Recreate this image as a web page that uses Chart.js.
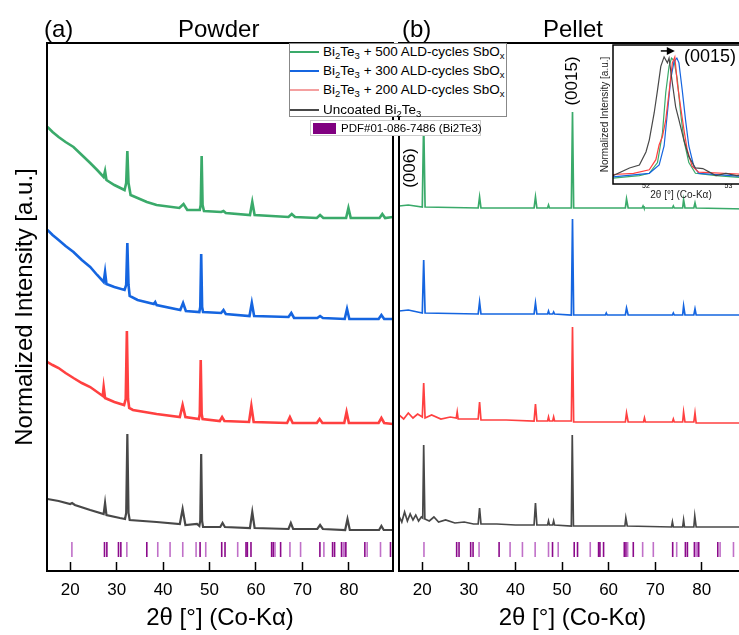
<!DOCTYPE html>
<html lang="en">
<head>
<meta charset="UTF-8" />
<title>XRD – Bi2Te3 powder and pellet with SbOx coatings</title>
<script src="https://cdn.jsdelivr.net/npm/chart.js"></script>
<style>
  body { margin: 0; background: #fff; font-family: 'Liberation Sans', Arial, sans-serif; }
  #fig { position: relative; width: 739px; height: 635px; overflow: hidden; }
  #fig canvas { position: absolute; }
  .head { position: absolute; font-size: 24px; line-height: 24px; color: #000; white-space: nowrap; }
  .legend { position: absolute; left: 289px; top: 43px; width: 218px; height: 74px; box-sizing: border-box;
            border: 1px solid #888; background: #fff; }
  .row { position: absolute; left: 0; height: 18px; width: 216px; }
  .row .swatch { position: absolute; left: 0; top: 8px; width: 29px; height: 2px; }
  .row .txt { position: absolute; left: 33px; top: 0; font-size: 13.5px; line-height: 18px; white-space: nowrap; color: #000; }
  sub { font-size: 9.5px; line-height: 0; vertical-align: baseline; position: relative; top: 3px; }
  .pdf { position: absolute; left: 310px; top: 120px; width: 171px; height: 16px; box-sizing: border-box;
         border: 1px solid #ccc; background: #fff; }
  .pdf .swatch { position: absolute; left: 2px; top: 2px; width: 23px; height: 11px; background: #800080; }
  .pdf .txt { position: absolute; left: 30px; top: 0; font-size: 11.5px; line-height: 14px; white-space: nowrap; }
</style>
</head>
<body>
<div id="fig">
  <canvas id="powder" width="396" height="635" style="left:0;top:0"></canvas>
  <canvas id="pellet" width="355" height="635" style="left:395px;top:0"></canvas>
  <canvas id="inset" width="160" height="162" style="left:598px;top:40px"></canvas>

  <div class="head" style="left:44px;top:17px">(a)</div>
  <div class="head" style="left:178px;top:17px">Powder</div>
  <div class="head" style="left:402px;top:17px">(b)</div>
  <div class="head" style="left:543px;top:17px">Pellet</div>

  <div class="legend">
    <div class="row" style="top:-1px"><div class="swatch" style="background:#3aaa6a"></div>
      <div class="txt">Bi<sub>2</sub>Te<sub>3</sub> + 500 ALD-cycles SbO<sub>x</sub></div></div>
    <div class="row" style="top:18px"><div class="swatch" style="background:#1565e0"></div>
      <div class="txt">Bi<sub>2</sub>Te<sub>3</sub> + 300 ALD-cycles SbO<sub>x</sub></div></div>
    <div class="row" style="top:37px"><div class="swatch" style="background:#f4a0a0"></div>
      <div class="txt">Bi<sub>2</sub>Te<sub>3</sub> + 200 ALD-cycles SbO<sub>x</sub></div></div>
    <div class="row" style="top:57px"><div class="swatch" style="background:#484848"></div>
      <div class="txt">Uncoated Bi<sub>2</sub>Te<sub>3</sub></div></div>
  </div>
  <div class="pdf"><div class="swatch"></div><div class="txt">PDF#01-086-7486 (Bi2Te3)</div></div>
</div>

<script>
  // 2θ axis ticks
  const xTicks = [20, 30, 40, 50, 60, 70, 80];
  const insetTicks = [52, 53];

  // Powder patterns, [2θ, intensity (offset, a.u.)]
  const powder500 = [[15.1,44.4],[16.2,43.9],[17.5,43.4],[19.0,42.9],[20.7,42.4],[22.5,41.6],[24.3,40.8],[25.8,40.1],[27.2,39.4],[27.5,40.0],[27.8,39.1],[29.5,38.6],[31.7,38.1],[32.05,38.8],[32.3,42.0],[32.55,38.8],[33.0,37.6],[34.5,37.3],[36.5,36.9],[38.6,36.6],[43.5,36.3],[44.4,36.7],[45.2,36.1],[47.9,36.1],[48.1,36.6],[48.3,41.5],[48.5,36.6],[48.8,36.0],[52.5,35.9],[53.0,36.0],[53.5,35.8],[58.7,35.6],[59.2,36.9],[59.7,35.6],[67.0,35.4],[67.7,35.7],[68.4,35.4],[73.1,35.3],[73.8,35.6],[74.5,35.3],[79.4,35.3],[79.9,36.3],[80.4,35.3],[86.6,35.3],[87.2,35.7],[87.8,35.3],[89.5,35.4]];
  const powder300 = [[15.1,34.1],[16.2,33.6],[17.5,33.1],[19.0,32.5],[20.7,31.9],[22.5,31.1],[24.3,30.4],[25.8,29.6],[27.2,28.9],[27.5,29.9],[27.8,28.7],[29.5,28.4],[31.7,28.1],[32.05,28.6],[32.3,32.8],[32.55,28.6],[32.8,27.5],[34.5,27.1],[38.0,26.7],[38.3,26.9],[38.6,26.6],[43.7,26.1],[44.3,26.8],[44.9,26.0],[47.8,25.9],[48.0,26.4],[48.2,31.7],[48.4,26.4],[48.6,25.9],[52.5,25.8],[53.0,26.1],[53.5,25.7],[58.6,25.5],[59.1,26.8],[59.6,25.5],[67.0,25.4],[67.6,25.8],[68.2,25.3],[73.2,25.3],[73.8,25.5],[74.4,25.3],[79.1,25.2],[79.6,26.2],[80.1,25.2],[86.4,25.2],[87.0,25.6],[87.6,25.2],[89.5,25.2]];
  const powder200 = [[15.1,20.9],[16.2,20.6],[17.5,20.3],[19.0,19.8],[20.7,19.3],[22.5,18.8],[24.3,18.4],[27.0,17.5],[27.2,18.4],[27.5,17.3],[29.5,16.9],[31.6,16.6],[31.95,17.2],[32.2,24.0],[32.45,17.2],[32.7,16.3],[33.5,16.1],[38.6,15.7],[43.6,15.4],[44.2,16.6],[44.8,15.4],[47.7,15.2],[47.9,15.7],[48.1,21.1],[48.3,15.7],[48.5,15.2],[52.2,15.0],[52.7,15.4],[53.2,15.0],[58.5,14.9],[59.0,16.5],[59.5,14.9],[66.7,14.8],[67.3,15.4],[67.9,14.8],[73.1,14.8],[73.7,15.2],[74.3,14.8],[79.0,14.8],[79.5,15.9],[80.0,14.8],[86.4,14.8],[87.0,15.3],[87.6,14.8],[89.5,14.7]];
  const powderBare = [[15.1,7.2],[17.5,7.0],[20.0,6.7],[20.4,6.8],[21.0,6.6],[24.3,6.1],[27.2,5.7],[27.5,6.8],[27.8,5.6],[30.7,5.3],[31.8,5.2],[32.05,5.8],[32.3,13.7],[32.55,5.8],[32.8,5.1],[38.6,4.9],[43.6,4.7],[44.2,6.2],[44.8,4.6],[47.3,4.7],[47.8,4.5],[48.0,5.0],[48.2,11.7],[48.4,5.0],[48.6,4.4],[52.3,4.4],[52.8,4.8],[53.3,4.4],[58.7,4.3],[59.2,5.9],[59.7,4.3],[67.0,4.2],[67.5,4.8],[68.0,4.2],[73.2,4.2],[73.8,4.6],[74.4,4.2],[79.2,4.1],[79.7,5.2],[80.2,4.1],[86.5,4.1],[87.0,4.5],[87.5,4.1],[89.5,4.1]];

  // Pellet patterns
  const pellet500 = [[15,36.5],[17,36.6],[20.0,36.4],[20.3,45.1],[20.6,36.4],[32.0,36.3],[32.3,37.4],[32.6,36.3],[44.0,36.3],[44.3,37.4],[44.6,36.3],[46.9,36.3],[47.1,36.6],[47.3,36.3],[52.0,36.3],[52.25,45.9],[52.5,36.3],[63.6,36.3],[63.85,37.2],[64.2,36.3],[67.2,36.3],[67.4,36.5],[67.6,36.3],[73.7,36.3],[73.9,36.5],[74.1,36.3],[75.9,36.3],[76.1,37.1],[76.4,36.3],[78.3,36.3],[78.55,36.8],[78.8,36.3],[89.5,36.2]];
  const pellet300 = [[15,26.0],[17,26.1],[20.0,25.8],[20.3,31.1],[20.6,25.8],[32.0,25.7],[32.3,26.9],[32.6,25.7],[44.0,25.7],[44.3,26.8],[44.6,25.7],[46.9,25.7],[47.1,26.0],[47.3,25.7],[48.0,25.7],[48.2,25.9],[48.4,25.7],[52.0,25.6],[52.25,35.2],[52.5,25.6],[59.3,25.6],[59.5,25.8],[59.7,25.6],[63.6,25.6],[63.85,26.3],[64.2,25.6],[73.7,25.6],[73.9,25.8],[74.1,25.6],[75.9,25.6],[76.1,26.5],[76.4,25.6],[78.3,25.6],[78.55,26.2],[78.8,25.6],[89.5,25.6]];
  const pellet200 = [[15,15.6],[16,15.2],[17,15.8],[18,15.3],[19,15.7],[20.0,15.4],[20.3,18.8],[20.6,15.3],[22,15.6],[24,15.2],[26,15.4],[27.3,15.3],[27.5,15.9],[27.7,15.2],[30,15.2],[32.0,15.2],[32.3,16.9],[32.6,15.1],[38,15.1],[44.0,15.0],[44.3,16.7],[44.6,15.0],[46.9,15.0],[47.1,15.4],[47.3,15.0],[48.0,15.0],[48.2,15.4],[48.4,15.0],[52.0,15.0],[52.25,24.4],[52.5,14.9],[63.6,14.9],[63.85,15.8],[64.2,14.9],[67.5,14.9],[67.7,15.3],[67.9,14.9],[73.7,14.9],[73.9,15.2],[74.1,14.9],[75.9,14.9],[76.1,15.9],[76.4,14.9],[78.3,14.9],[78.55,15.8],[78.8,14.8],[89.5,14.8]];
  const pelletBare = [[15,5.5],[15.6,4.9],[16.2,5.9],[16.8,5.0],[17.4,5.7],[18,5.1],[18.6,5.6],[19.2,5.0],[19.8,5.4],[20.1,5.3],[20.3,12.6],[20.55,5.2],[21.5,5.0],[22.5,5.4],[23.5,4.9],[25,5.1],[27,4.8],[29,4.9],[31,4.7],[32.0,4.7],[32.3,6.3],[32.6,4.7],[36,4.7],[40,4.6],[44.0,4.6],[44.3,6.8],[44.6,4.6],[46.9,4.6],[47.1,5.0],[47.3,4.6],[48.0,4.6],[48.2,5.0],[48.4,4.6],[52.0,4.5],[52.2,13.6],[52.45,4.5],[63.5,4.5],[63.7,5.3],[64.0,4.5],[73.5,4.4],[73.7,4.9],[73.9,4.4],[75.9,4.4],[76.1,5.1],[76.3,4.4],[78.3,4.4],[78.5,5.5],[78.8,4.4],[89.5,4.4]];

  // Reference card PDF#01-086-7486: line positions and strong (1) / weak (0) lines
  const pdfPositions = [20.36,27.38,27.89,30.39,30.9,32.19,36.49,38.85,41.5,44.23,47.1,47.96,49.18,52.62,53.33,56.06,57.85,58.14,58.92,63.37,63.73,64.09,65.3,67.31,69.6,73.76,74.62,76.49,76.92,78.42,78.78,79.14,79.35,83.44,83.94,86.81,88.96];
  const pdfStrong = [0,1,1,1,1,0,1,0,0,0,0,1,0,1,1,0,1,1,1,1,1,0,1,0,0,1,0,1,1,1,0,0,1,1,0,0,1];
  const pdfLevel = 2.15;

  // (0015) reflection zoom, normalized
  const insetBare = [[51.6,0.0],[51.8,0.065],[51.92,0.09],[52.0,0.20],[52.04,0.30],[52.1,0.53],[52.14,0.72],[52.18,0.92],[52.22,1.0],[52.26,0.95],[52.28,0.99],[52.32,0.78],[52.36,0.58],[52.4,0.47],[52.46,0.30],[52.52,0.16],[52.6,0.065],[52.69,0.06],[52.77,0.03],[52.85,0.0],[52.97,0.02],[53.1,0.0],[53.25,0.01]];
  const inset500 = [[51.6,-0.02],[51.92,0.0],[52.04,0.02],[52.14,0.11],[52.2,0.36],[52.24,0.70],[52.28,0.92],[52.31,0.99],[52.34,0.97],[52.38,0.81],[52.42,0.53],[52.46,0.30],[52.52,0.11],[52.6,0.02],[52.85,0.0],[53.25,-0.02]];
  const inset300 = [[51.6,-0.01],[52.04,0.02],[52.16,0.09],[52.22,0.25],[52.26,0.53],[52.3,0.81],[52.34,0.96],[52.375,0.99],[52.4,0.95],[52.44,0.72],[52.48,0.47],[52.52,0.25],[52.58,0.08],[52.64,0.02],[53.25,-0.01]];
  const inset200 = [[51.6,0.01],[51.85,0.02],[52.04,0.05],[52.12,0.135],[52.16,0.26],[52.2,0.33],[52.24,0.47],[52.28,0.70],[52.32,0.95],[52.35,1.0],[52.38,0.78],[52.42,0.58],[52.46,0.39],[52.5,0.22],[52.56,0.08],[52.64,0.03],[53.25,0.01]];

  const COLORS = { c500: '#3aaa6a', c300: '#1565e0', c200: '#ff4040', bare: '#484848' };

  Chart.defaults.font.family = "'Liberation Sans', Arial, sans-serif";
  Chart.defaults.color = '#000';

  const toXY = pts => pts.map(([x, y]) => ({ x, y }));
  const trace = (pts, color, width) => ({
    data: toXY(pts), borderColor: color, borderWidth: width,
    pointRadius: 0, tension: 0, fill: false
  });

  const pdfSet = {
    data: pdfPositions.map(x => ({ x, y: pdfLevel })),
    showLine: false,
    pointStyle: 'line',
    rotation: 90,
    pointRadius: 7.5,
    pointBorderWidth: 1.6,
    pointBorderColor: pdfStrong.map(s => s ? '#8b0a8b' : '#c070c8')
  };

  // box around the plot area, optional white fill underneath
  const frame = {
    id: 'frame',
    beforeDatasetsDraw(chart, args, opts) {
      if (!opts.fill) return;
      const { ctx, chartArea: a } = chart;
      ctx.save();
      ctx.fillStyle = opts.fill;
      ctx.fillRect(a.left, a.top, a.right - a.left, a.bottom - a.top);
      ctx.restore();
    },
    afterDatasetsDraw(chart, args, opts) {
      const { ctx, chartArea: a } = chart;
      ctx.save();
      ctx.strokeStyle = '#000';
      ctx.lineWidth = opts.width || 2;
      ctx.strokeRect(a.left, a.top, a.right - a.left, a.bottom - a.top);
      ctx.restore();
    }
  };

  function xAxis(min, max, ticks, o) {
    return {
      type: 'linear', min, max,
      afterBuildTicks: axis => { axis.ticks = ticks.map(v => ({ value: v })); },
      afterFit: axis => {
        axis.height = o.height;
        axis.paddingLeft = 0;
        axis.paddingRight = 0;
      },
      border: { display: false },
      grid: { drawOnChartArea: false, drawTicks: true, tickLength: -o.tick, tickColor: '#000', tickWidth: o.tickWidth },
      ticks: { font: { size: o.tickSize }, padding: o.pad, color: '#000', maxRotation: 0 },
      title: { display: true, text: '2θ [°] (Co-Kα)', font: { size: o.titleSize }, color: o.titleColor || '#000',
               padding: { top: 0, bottom: o.titlePad } }
    };
  }

  function yAxis(min, max, width, title) {
    return {
      min, max,
      afterFit: axis => { axis.width = width; },
      border: { display: false },
      grid: { display: false },
      ticks: { display: false },
      title: title
        ? { display: true, text: 'Normalized Intensity [a.u.]', font: { size: title.size }, color: title.color || '#000',
            padding: { top: title.pad, bottom: 0 } }
        : { display: false }
    };
  }

  const base = {
    responsive: false,
    animation: false,
    events: [],
    plugins: { legend: { display: false }, tooltip: { enabled: false }, frame: { width: 2 } }
  };

  // (a) Powder
  new Chart(document.getElementById('powder'), {
    type: 'line',
    data: { datasets: [
      trace(powderBare, COLORS.bare, 2.2),
      trace(powder200, COLORS.c200, 2.6),
      trace(powder300, COLORS.c300, 2.6),
      trace(powder500, COLORS.c500, 2.6),
      pdfSet
    ] },
    options: {
      ...base,
      layout: { autoPadding: false, padding: { top: 43, right: 3, left: 0, bottom: 0 } },
      scales: {
        x: xAxis(15, 89.5, xTicks, { height: 64, tick: 9, tickWidth: 1.5, tickSize: 17, pad: 18, titleSize: 24, titlePad: 2 }),
        y: yAxis(0, 52.8, 47, { size: 24, pad: 11 })
      }
    },
    plugins: [frame]
  });

  // rotated Miller indices above the pellet reflections
  const peakLabels = {
    id: 'peakLabels',
    afterDatasetsDraw(chart) {
      const { ctx, scales: { x, y } } = chart;
      const marks = [['(006)', 17.35, 40.3], ['(0015)', 52.25, 49.0]];
      ctx.save();
      ctx.fillStyle = '#000';
      ctx.font = "17px 'Liberation Sans', Arial, sans-serif";
      ctx.textAlign = 'center';
      ctx.textBaseline = 'middle';
      marks.forEach(([t, a, b]) => {
        ctx.save();
        ctx.translate(x.getPixelForValue(a), y.getPixelForValue(b));
        ctx.rotate(-Math.PI / 2);
        ctx.fillText(t, 0, 0);
        ctx.restore();
      });
      ctx.restore();
    }
  };

  // (b) Pellet
  new Chart(document.getElementById('pellet'), {
    type: 'line',
    data: { datasets: [
      trace(pelletBare, COLORS.bare, 1.7),
      trace(pellet200, COLORS.c200, 1.7),
      trace(pellet300, COLORS.c300, 1.7),
      trace(pellet500, COLORS.c500, 1.7),
      pdfSet
    ] },
    options: {
      ...base,
      layout: { autoPadding: false, padding: { top: 43, right: 4, left: 0, bottom: 0 } },
      scales: {
        x: xAxis(15, 89.5, xTicks, { height: 64, tick: 9, tickWidth: 1.5, tickSize: 17, pad: 18, titleSize: 24, titlePad: 2 }),
        y: yAxis(0, 52.8, 4, null)
      }
    },
    plugins: [frame, peakLabels]
  });

  // shift arrow and label over the inset peaks
  const shiftArrow = {
    id: 'shiftArrow',
    afterDatasetsDraw(chart) {
      const { ctx, scales: { x, y } } = chart;
      const x0 = x.getPixelForValue(52.18), x1 = x.getPixelForValue(52.35), yy = y.getPixelForValue(1.05);
      ctx.save();
      ctx.strokeStyle = '#000';
      ctx.fillStyle = '#000';
      ctx.lineWidth = 1.5;
      ctx.beginPath();
      ctx.moveTo(x0, yy);
      ctx.lineTo(x1 - 6, yy);
      ctx.stroke();
      ctx.beginPath();
      ctx.moveTo(x1, yy);
      ctx.lineTo(x1 - 8, yy - 4);
      ctx.lineTo(x1 - 8, yy + 4);
      ctx.closePath();
      ctx.fill();
      ctx.font = "18px 'Liberation Sans', Arial, sans-serif";
      ctx.textAlign = 'left';
      ctx.textBaseline = 'middle';
      ctx.fillText('(0015)', x.getPixelForValue(52.46), y.getPixelForValue(1.0));
      ctx.restore();
    }
  };

  // inset: (0015) peak shift
  new Chart(document.getElementById('inset'), {
    type: 'line',
    data: { datasets: [
      trace(insetBare, COLORS.bare, 1.2),
      trace(inset200, COLORS.c200, 1.2),
      trace(inset300, COLORS.c300, 1.2),
      trace(inset500, COLORS.c500, 1.2)
    ] },
    options: {
      ...base,
      plugins: { ...base.plugins, frame: { width: 1.5, fill: '#fff' } },
      layout: { autoPadding: false, padding: { top: 5, right: 9, left: 0, bottom: 0 } },
      scales: {
        x: xAxis(51.6, 53.25, insetTicks, { height: 18, tick: 4, tickWidth: 1, tickSize: 7, pad: 2, titleSize: 10, titlePad: 1, titleColor: '#222' }),
        y: yAxis(-0.07, 1.1, 15, { size: 10, pad: 1, color: '#222' })
      }
    },
    plugins: [frame, shiftArrow]
  });
</script>
</body>
</html>
